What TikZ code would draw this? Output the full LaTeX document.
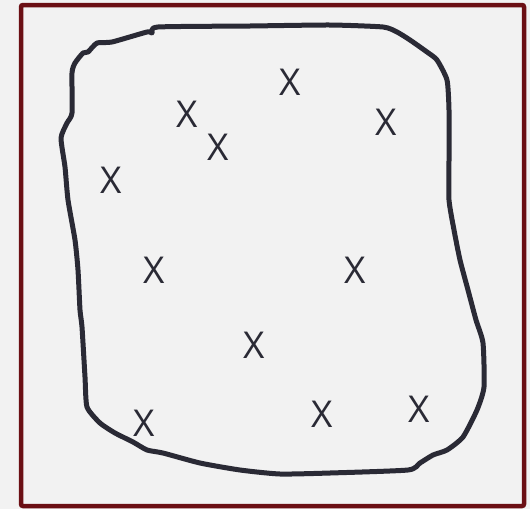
\documentclass[tikz,border=0pt]{standalone}
\usepackage{fontspec}
\setmainfont{Open Sans}
\definecolor{bg}{HTML}{F2F2F2}
\definecolor{frame}{HTML}{6B0F14}
\definecolor{ink}{HTML}{2A2A35}
\begin{document}
\begin{tikzpicture}[x=1pt,y=-1pt,
  xmark/.style={text=ink,font=\fontsize{37}{37}\selectfont,inner sep=0pt,anchor=center},
  blob/.style={draw=ink,line width=5pt,line join=round,line cap=round}]
\fill[bg] (0,0) rectangle (530,509);
\useasboundingbox (0,0) rectangle (530,509);
\draw[frame,line width=4.5pt,rounded corners=2pt] (21,5) rectangle (524,506);
\draw[blob] plot[smooth cycle,tension=0.35] coordinates {
 (158,27) (250,26) (330,25) (383,27) (397,32) (410,40) (427,52) (437,60) (447,80)
 (449,110) (449,160) (449,200) (454,230) (460,260) (468,290) (476,320) (483,343)
 (484,387) (477,410) (463,437) (447,450) (433,455) (420,463) (408,470) (330,473)
 (280,474) (240,470) (200,463) (163,453) (147,450) (133,442) (115,433) (100,423)
 (87,407) (85,377) (82,327) (80,310) (78,270) (75,240) (68,200) (65,167) (61,138)
 (67,123) (72,113) (72,73) (75,63) (83,53) (88,52) (97,43) (112,42) (147,32) (152,33)
};
\node[xmark] (x1) at (290,82) {X};
\node[xmark] (x2) at (187,114) {X};
\node[xmark] (x3) at (218,147) {X};
\node[xmark] (x4) at (386,122) {X};
\node[xmark] (x5) at (111,180) {X};
\node[xmark] (x6) at (154,270) {X};
\node[xmark] (x7) at (355,270) {X};
\node[xmark] (x8) at (254,345) {X};
\node[xmark] (x9) at (144,423) {X};
\node[xmark] (x10) at (322,414) {X};
\node[xmark] (x11) at (419,409) {X};
\end{tikzpicture}
\end{document}
